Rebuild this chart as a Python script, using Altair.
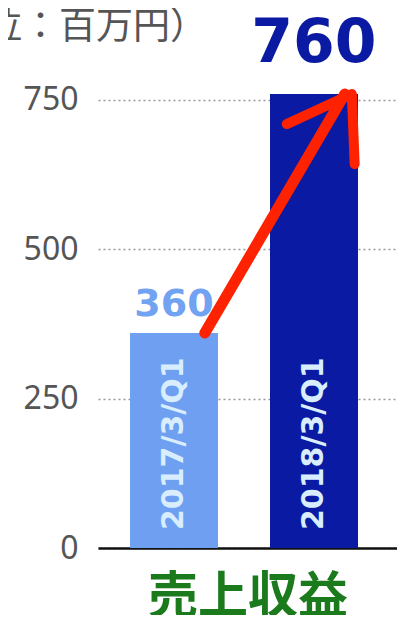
import altair as alt
import pandas as pd

periods = ["2017/3/Q1", "2018/3/Q1"]
revenue = [360, 760]
bar_colors = ["#6f9ff0", "#0a1aa2"]
y_ticks = [0, 250, 500, 750]
unit_label = "（単位：百万円）"
title_label = "売上収益"

df = pd.DataFrame({"period": periods, "revenue": revenue, "color": bar_colors})
arrow_df = pd.DataFrame({"period": periods, "revenue": revenue})
tip_df = pd.DataFrame({"period": [periods[-1]], "revenue": [revenue[-1]]})
unit_df = pd.DataFrame({"label": [unit_label]})

x_scale = alt.Scale(domain=periods, paddingInner=0.3714, paddingOuter=0.2536, align=0.4507)
y_scale = alt.Scale(domain=[0, 760], nice=False)

x_enc = alt.X("period:N", scale=x_scale, sort=periods,
              axis=alt.Axis(labels=False, ticks=False, domain=True, domainColor="#111",
                            domainWidth=2.5, grid=False, title=title_label,
                            titleFont="Noto Sans CJK JP", titleFontSize=50,
                            titleFontWeight="bold", titleColor="#1b7a1b",
                            titlePadding=24))
y_enc = alt.Y("revenue:Q", scale=y_scale,
              axis=alt.Axis(values=y_ticks, title=None, domain=False, ticks=False,
                            labelFont="Noto Sans", labelFontSize=32, labelColor="#555",
                            labelPadding=20, grid=True, gridColor="#999",
                            gridDash=[2, 3], gridWidth=1.5))

bars = alt.Chart(df).mark_bar().encode(
    x=x_enc, y=y_enc, color=alt.Color("color:N", scale=None)
)

inner = alt.Chart(df).mark_text(
    angle=270, align="left", baseline="middle", dx=18,
    font="DejaVu Sans", fontSize=30, fontWeight="bold", color="#d8eeff"
).encode(x=alt.X("period:N", sort=periods), y=alt.datum(0), text="period:N")

top_small = alt.Chart(df.iloc[[0]]).mark_text(
    baseline="alphabetic", dy=-17, font="DejaVu Sans", fontSize=38,
    fontWeight="bold", color="#72a2f2"
).encode(x=alt.X("period:N", sort=periods), y="revenue:Q", text="revenue:Q")

top_big = alt.Chart(df.iloc[[1]]).mark_text(
    baseline="alphabetic", dy=-32, font="DejaVu Sans", fontSize=60,
    fontWeight="bold", color="#0a1aa2"
).encode(x=alt.X("period:N", sort=periods), y="revenue:Q", text="revenue:Q")

arrow_line = alt.Chart(arrow_df).mark_line(
    color="#ff2200", strokeWidth=11, strokeCap="round"
).encode(
    x=alt.X("period:N", sort=periods, bandPosition=0.85),
    y=alt.Y("revenue:Q"),
)

arrow_head = alt.Chart(tip_df).mark_point(
    shape="M -0.93 0.43 L 0 0 L 0.04 1", size=19600, filled=False,
    color="#ff2200", strokeWidth=10, strokeCap="round", strokeJoin="round", opacity=1
).encode(
    x=alt.X("period:N", sort=periods, bandPosition=0.93),
    y=alt.Y("revenue:Q"),
)

unit_text = alt.Chart(unit_df).mark_text(
    align="right", baseline="middle", font="Noto Sans CJK JP", fontSize=37,
    color="#555"
).encode(x=alt.value(109), y=alt.value(-66), text="label:N")

chart = alt.layer(bars, inner, top_small, top_big, arrow_line, arrow_head, unit_text).properties(
    width=299, height=454,
    autosize=alt.AutoSizeParams(type="none"),
    padding={"left": 90, "top": 86, "right": 0, "bottom": 67},
).configure_view(stroke=None)

chart.save("out.html", embed_options={"renderer": "svg", "actions": False})
